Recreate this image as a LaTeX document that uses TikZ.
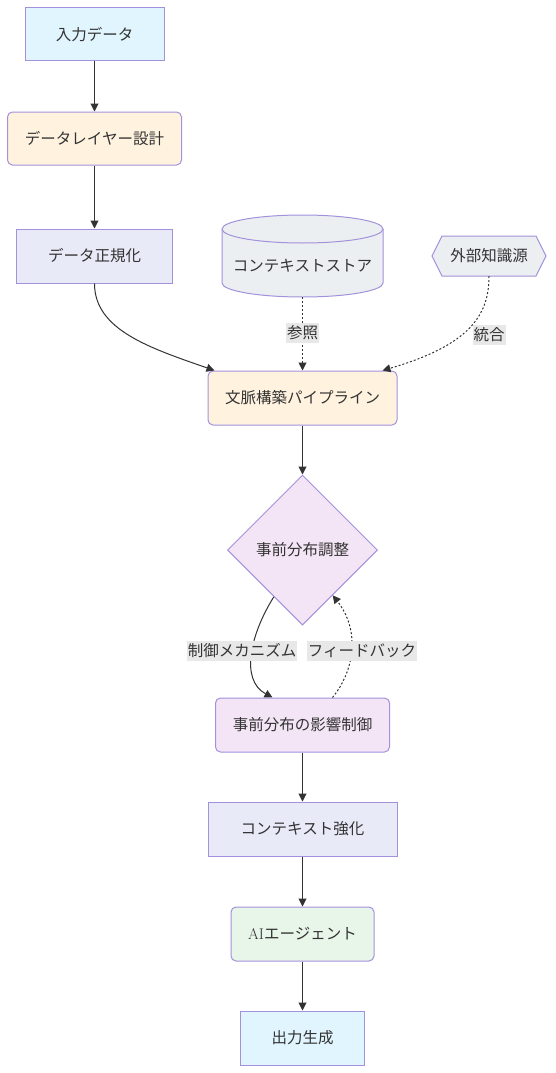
\documentclass[tikz,border=0pt]{standalone}
\usepackage{fontspec}
\newfontfamily\jp{Noto Sans CJK JP}
\usetikzlibrary{shapes.geometric,arrows.meta,calc}
\definecolor{txt}{HTML}{333333}
\definecolor{edge}{HTML}{333333}
\definecolor{bord}{HTML}{A391DC}
\definecolor{lblbg}{HTML}{E8E8E8}
\definecolor{cin}{HTML}{E1F5FE}
\definecolor{clay}{HTML}{FFF3E0}
\definecolor{cnorm}{HTML}{E8EAF8}
\definecolor{cstore}{HTML}{ECEFF1}
\definecolor{cpri}{HTML}{F3E5F5}
\definecolor{cai}{HTML}{E8F5E9}
\begin{document}
\begin{tikzpicture}[x=1pt,y=-1pt,>={Triangle[length=8pt,width=8pt]},
    box/.style={draw=bord,line width=1pt,text=txt,font=\jp\fontsize{15.5}{18}\selectfont,minimum height=54,inner sep=0pt},
    rbox/.style={box,rounded corners=5pt},
    lbl/.style={fill=lblbg,text=txt,font=\jp\fontsize{15.5}{18}\selectfont,inner xsep=1pt,inner ysep=3pt},
    link/.style={draw=edge,line width=1pt,->},
    dots/.style={link,dash pattern=on 2pt off 2pt}]
    \useasboundingbox (0,0) rectangle (555,1073);
    % left column
    \node[box,fill=cin,minimum width=139,minimum height=53] (inp) at (94.5,34.5) {入力データ};
    \node[rbox,fill=clay,minimum width=174,minimum height=53] (layer) at (94.5,138.5) {データレイヤー設計};
    \node[box,fill=cnorm,minimum width=156] (norm) at (94.5,256) {データ正規化};
    % store (cylinder) and external source (hexagon)
    \draw[draw=bord,line width=1pt,fill=cstore] (222,229) -- (222,283)
        arc[start angle=180,end angle=360,x radius=80.5pt,y radius=14pt] -- (383,229)
        arc[start angle=0,end angle=180,x radius=80.5pt,y radius=14pt] -- cycle;
    \draw[draw=bord,line width=1pt] (222,229) arc[start angle=180,end angle=360,x radius=80.5pt,y radius=14pt];
    \node[text=txt,font=\jp\fontsize{15.5}{18}\selectfont,minimum width=161,minimum height=62,inner sep=0pt] (store) at (302.5,266) {コンテキストストア};
    \draw[draw=bord,line width=1pt,fill=cstore] (432,256) -- (442,236) -- (536,236) -- (546,256) -- (536,276) -- (442,276) -- cycle;
    \node[text=txt,font=\jp\fontsize{15.5}{18}\selectfont,minimum width=114,minimum height=40,inner sep=0pt] (ext) at (489,256) {外部知識源};
    % main column
    \node[rbox,fill=clay,minimum width=189] (pipe) at (302.5,398) {文脈構築パイプライン};
    \node[box,diamond,aspect=1,fill=cpri,minimum size=150] (adj) at (302.5,550) {事前分布調整};
    \node[rbox,fill=cpri,minimum width=174] (infl) at (302.5,725) {事前分布の影響制御};
    \node[box,fill=cnorm,minimum width=189] (enh) at (302.5,829) {コンテキスト強化};
    \node[rbox,fill=cai,minimum width=143] (ai) at (302.5,934) {{\rmfamily AI}エージェント};
    \node[box,fill=cin,minimum width=124] (out) at (302.5,1038) {出力生成};
    % connectors
    \draw[link] (inp) -- (layer);
    \draw[link] (layer) -- (norm);
    \draw[link] (norm.south) .. controls (94.5,330) and (150,348) .. ([xshift=7]pipe.north west);
    \draw[dots] (store.south) -- (pipe.north);
    \draw[dots] (ext.south) .. controls (489,315) and (470,345) .. ([xshift=-15]pipe.north east);
    \draw[link] (pipe) -- (adj);
    \draw[link] ($(adj.south)!0.38!(adj.west)$) .. controls (250,635) and (240,680) .. ([xshift=-30]infl.north);
    \draw[dots] ([xshift=30]infl.north) .. controls (355,670) and (360,630) .. ($(adj.south)!0.4!(adj.east)$);
    \draw[link] (infl) -- (enh);
    \draw[link] (enh) -- (ai);
    \draw[link] (ai) -- (out);
    % labels
    \node[lbl] (lref) at (302.5,333) {参照};
    \node[lbl] (lint) at (489,335) {統合};
    \node[lbl] (lctl) at (242,651) {制御メカニズム};
    \node[lbl] (lfb) at (362,651) {フィードバック};
\end{tikzpicture}
\end{document}
